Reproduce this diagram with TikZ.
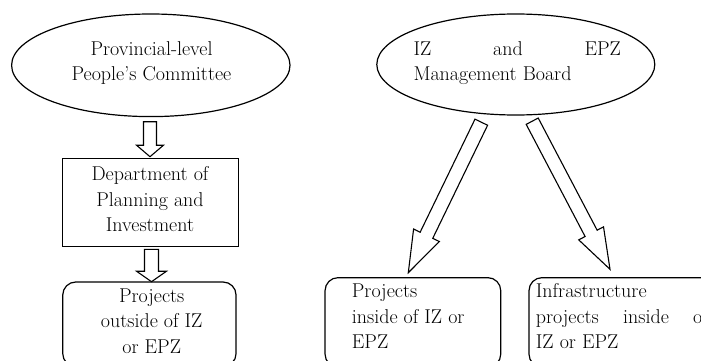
\documentclass[tikz,border=0pt]{standalone}
\usetikzlibrary{shapes.geometric,calc}

% hollow block arrow: #1 name, #2 start, #3 tip, #4 shaft half-width,
% #5 head half-width, #6 head length
\newcommand\blockarrow[6]{%
  \coordinate (#1h) at ($(#3)!#6!(#2)$);
  \draw[blockarr]
    ($(#2)!#4!90:(#3)$) -- ($(#1h)!#4!90:(#3)$) -- ($(#1h)!#5!90:(#3)$)
    -- (#3)
    -- ($(#1h)!#5!-90:(#3)$) -- ($(#1h)!#4!-90:(#3)$) -- ($(#2)!#4!-90:(#3)$)
    -- cycle;
}

\begin{document}
\begin{tikzpicture}[x=1pt,y=-1pt,
  outline/.style={draw, line width=1.2pt, inner sep=0pt},
  oval/.style={outline, ellipse},
  plainbox/.style={outline, rectangle},
  roundbox/.style={outline, rectangle, rounded corners=13pt},
  txt/.style={inner sep=0pt, font=\fontsize{20}{25.5}\selectfont},
  blockarr/.style={draw, fill=white, line width=1.1pt, line join=miter},
]
\fill[white] (0,0) rectangle (701,361);
\useasboundingbox (0,0) rectangle (701,361);
\clip (0,0) rectangle (701,361);

% left branch (text nodes are placed by the baseline of their last line)
\node[oval, minimum width=278.4pt, minimum height=102.6pt] (pc) at (150.8,65.3) {};
\node[txt, align=center, anchor=base] (pct) at (151.5,80.7)
  {Provincial-level\\People’s Committee};

\node[plainbox, minimum width=175.6pt, minimum height=88.4pt] (dpi) at (150.5,202.5) {};
\node[txt, align=center, anchor=base] (dpit) at (150,231.7)
  {Department of\\Planning and\\Investment};

\node[roundbox, minimum width=173.3pt, minimum height=84.6pt] (outz) at (149.4,324.3) {};
\node[txt, align=center, anchor=base] (outzt) at (151.7,353.3)
  {Projects\\outside of IZ\\or EPZ};

\coordinate (a1s) at (150,121.7);
\coordinate (a1e) at (150,156.7);
\blockarrow{a1}{a1s}{a1e}{6.5pt}{13.5pt}{11.5pt}
\coordinate (a2s) at (151.5,249.3);
\coordinate (a2e) at (151.5,281.7);
\blockarrow{a2}{a2s}{a2e}{7pt}{15pt}{10.5pt}

% right branch
\node[oval, minimum width=278pt, minimum height=101pt] (mb) at (515.8,64.5) {};
\node[txt, align=left, anchor=base west] (mbt) at (413.3,80.7)
  {\makebox[207.4pt][s]{IZ\hfill and\hfill EPZ}\\Management Board};

\node[roundbox, minimum width=175.7pt, minimum height=89.5pt] (inz) at (412.9,322.4) {};
\node[txt, align=left, anchor=base west] (inzt) at (351.7,348.5)
  {Projects\\inside of IZ or\\EPZ};

\node[roundbox, minimum width=191pt, minimum height=89.5pt] (infra) at (624.5,322.4) {};
\node[txt, align=left, anchor=base west] (infrat) at (535.7,348.5)
  {Infrastructure\\\makebox[172pt][s]{projects\hfill inside\hfill of}\\IZ or EPZ};

\coordinate (a3s) at (481.3,122.2);
\coordinate (a3e) at (408.3,272.7);
\blockarrow{a3}{a3s}{a3e}{7pt}{14.3pt}{41.6pt}
\coordinate (a4s) at (532.2,121.2);
\coordinate (a4e) at (610,269.3);
\blockarrow{a4}{a4s}{a4e}{6.8pt}{14pt}{40.6pt}
\end{tikzpicture}
\end{document}
